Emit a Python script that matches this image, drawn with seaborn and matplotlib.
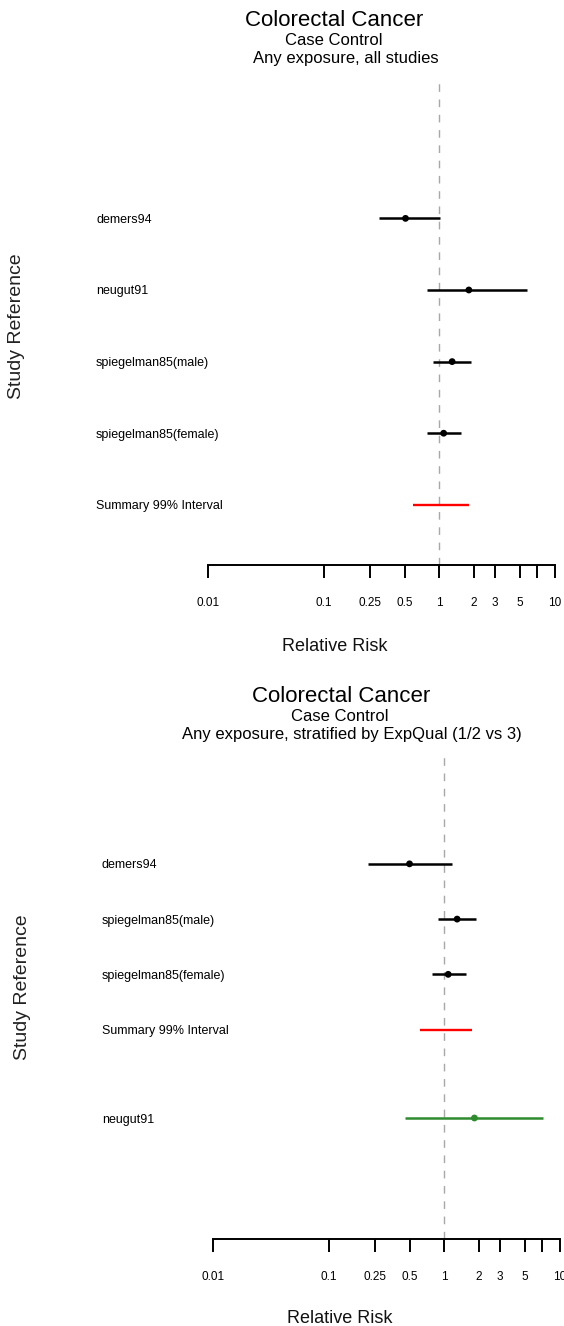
import numpy as np
import pandas as pd
import matplotlib
matplotlib.use("Agg")
import matplotlib.pyplot as plt
from matplotlib.ticker import NullLocator
import seaborn as sns

# ---------------- data ----------------
# Panel 1: any exposure, all studies
studies1 = ["demers94", "neugut91", "spiegelman85(male)", "spiegelman85(female)"]
rr1 = [0.51, 1.80, 1.29, 1.09]
lo1 = [0.30, 0.79, 0.88, 0.79]
hi1 = [1.01, 5.78, 1.88, 1.54]
group1 = ["all", "all", "all", "all"]
summary1 = [0.59, 1.80]

# Panel 2: stratified by ExpQual (1/2 vs 3)
studies2 = ["demers94", "spiegelman85(male)", "spiegelman85(female)", "neugut91"]
rr2 = [0.50, 1.29, 1.08, 1.82]
lo2 = [0.22, 0.88, 0.78, 0.46]
hi2 = [1.16, 1.87, 1.54, 7.2]
group2 = ["1/2", "1/2", "1/2", "3"]
summary2 = [0.62, 1.72]

summary_label = "Summary 99% Interval"
tick_vals = [0.01, 0.1, 0.25, 0.5, 1, 2, 3, 5, 7, 10]
tick_labels = ["0.01", "0.1", "0.25", "0.5", "1", "2", "3", "5", "", "10"]
titles1 = ["Colorectal Cancer", "Case Control", "Any exposure, all studies"]
titles2 = ["Colorectal Cancer", "Case Control",
           "Any exposure, stratified by ExpQual (1/2 vs 3)"]
palette = {"all": "black", "1/2": "black", "3": "#2E8B2E"}

# ---------------- style ----------------
sns.set_theme(style="white")
plt.rcParams["font.family"] = ["Liberation Sans", "DejaVu Sans"]

W, H = 564, 1326
fig = plt.figure(figsize=(W / 100, H / 100), dpi=100)


def px_axes(left, right, top, bottom):
    return fig.add_axes([left / W, 1 - bottom / H, (right - left) / W, (bottom - top) / H])


def forest(ax, df, summ, summ_y, ylim, label_pad, ylab_xy, xlab_y):
    ax.set_xscale("log")
    ax.set_xlim(0.01, 10)
    ax.set_ylim(*ylim)
    ax.axvline(1, color="#A8A8A8", lw=1.0, ls=(0, (5.5, 5.5)), zorder=1)
    for _, r in df.iterrows():
        ax.hlines(r["y"], r["lo"], r["hi"], color=palette[r["group"]], lw=1.8, zorder=2)
    sns.scatterplot(data=df, x="rr", y="y", hue="group", palette=palette,
                    s=24, marker="o", edgecolor="none", legend=False, ax=ax, zorder=3)
    ax.hlines(summ_y, summ[0], summ[1], color="#FF0000", lw=1.7, zorder=2)

    yt = list(df["y"]) + [summ_y]
    yl = list(df["study"]) + [summary_label]
    ax.set_yticks(yt, yl)
    for t in ax.get_yticklabels():
        t.set_horizontalalignment("left")
    ax.tick_params(axis="y", length=0, pad=label_pad, labelsize=9, labelcolor="black")

    ax.set_xticks(tick_vals, tick_labels)
    ax.xaxis.set_minor_locator(NullLocator())
    ax.tick_params(axis="x", which="major", direction="out", length=9.4, width=1.4,
                   pad=14, labelsize=8.5, color="black", bottom=True, labelcolor="black")

    for s in ["top", "right", "left"]:
        ax.spines[s].set_visible(False)
    ax.spines["bottom"].set_color("black")
    ax.spines["bottom"].set_linewidth(1.4)
    ax.set_facecolor("white")
    ax.grid(False)

    ax.set_xlabel("Relative Risk", fontsize=13, va="center", color="#111111")
    ax.xaxis.set_label_coords(0.366, xlab_y)
    ax.set_ylabel("Study Reference", fontsize=14, va="center", color="#222222")
    ax.yaxis.set_label_coords(*ylab_xy)


# Panel 1
ax1 = px_axes(208, 555, 78, 565)
n1 = len(studies1)
df1 = pd.DataFrame({"study": studies1, "rr": rr1, "lo": lo1, "hi": hi1, "group": group1,
                    "y": np.arange(n1 + 1, 1, -1)})
forest(ax1, df1, summary1, 1, (0.16, 6.96), 80.6, (-0.553, 0.491), -0.168)

# Panel 2 (stratum 1/2 rows, summary, then stratum 3 separated by a gap)
ax2 = px_axes(213, 560, 755, 1239)
gap = 1.6
y2 = [6, 5, 4, 3 - gap]
df2 = pd.DataFrame({"study": studies2, "rr": rr2, "lo": lo2, "hi": hi2, "group": group2,
                    "y": y2})
forest(ax2, df2, summary2, 3, (-0.79, 7.97), 80.0, (-0.550, 0.521), -0.165)

# Titles
for lines, xs, ys in [(titles1, [334.5, 334, 346], [21, 40.5, 58]),
                      (titles2, [341, 340, 352], [697, 716.5, 735])]:
    for i, (txt, x, y) in enumerate(zip(lines, xs, ys)):
        fig.text(x / W, 1 - y / H, txt, ha="center", va="center",
                 fontsize=16 if i == 0 else 12, color="black")

fig.savefig("out.png", dpi=100, facecolor="white")
